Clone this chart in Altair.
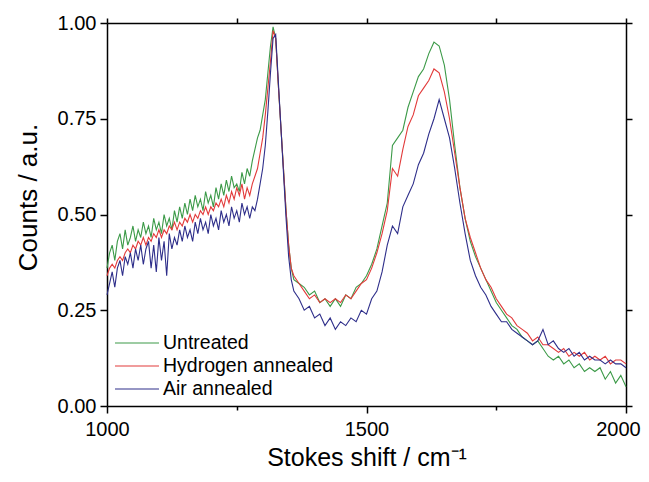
import altair as alt
import pandas as pd

shift = [1000, 1005, 1010, 1015, 1020, 1025, 1030, 1035, 1040, 1045,
         1050, 1055, 1060, 1065, 1070, 1075, 1080, 1085, 1090, 1095,
         1100, 1105, 1110, 1115, 1120, 1125, 1130, 1135, 1140, 1145,
         1150, 1155, 1160, 1165, 1170, 1175, 1180, 1185, 1190, 1195,
         1200, 1205, 1210, 1215, 1220, 1225, 1230, 1235, 1240, 1245,
         1250, 1255, 1260, 1265, 1270, 1275, 1280, 1285, 1290, 1295,
         1300, 1305, 1310, 1315, 1320, 1325, 1330, 1335, 1340, 1345,
         1350, 1355, 1360,
         1370, 1380, 1390, 1400, 1410, 1420, 1430, 1440,
         1450, 1460, 1470, 1480, 1490, 1500, 1510, 1520, 1530, 1540,
         1550, 1560, 1570, 1580, 1590, 1600, 1610, 1620, 1630, 1640,
         1650, 1660, 1670, 1680, 1690, 1700, 1710, 1720, 1730, 1740,
         1750, 1760, 1770, 1780, 1790, 1800, 1810, 1820, 1830, 1840,
         1850, 1860, 1870, 1880, 1890, 1900, 1910, 1920, 1930, 1940,
         1950, 1960, 1970, 1980, 1990, 2000]

untreated = [0.36, 0.40, 0.42, 0.38, 0.43, 0.45, 0.41, 0.46, 0.42, 0.44,
             0.47, 0.43, 0.46, 0.44, 0.48, 0.45, 0.47, 0.44, 0.49, 0.46,
             0.48, 0.45, 0.50, 0.47, 0.49, 0.46, 0.51, 0.48, 0.52, 0.49,
             0.53, 0.50, 0.54, 0.51, 0.55, 0.52, 0.54, 0.51, 0.56, 0.53,
             0.55, 0.52, 0.57, 0.54, 0.58, 0.55, 0.59, 0.56, 0.60, 0.57,
             0.58, 0.56, 0.61, 0.58, 0.62, 0.60, 0.64, 0.67, 0.70, 0.72,
             0.76, 0.80, 0.87, 0.94, 0.99, 0.96, 0.84, 0.73, 0.62, 0.51,
             0.42, 0.36, 0.33,
             0.32, 0.31, 0.29, 0.30, 0.27, 0.28, 0.26, 0.28,
             0.26, 0.29, 0.28, 0.31, 0.32, 0.34, 0.37, 0.41, 0.47, 0.53,
             0.68, 0.70, 0.72, 0.78, 0.82, 0.86, 0.88, 0.92, 0.95, 0.94,
             0.89, 0.80, 0.68, 0.57, 0.49, 0.43, 0.39, 0.36, 0.33, 0.30,
             0.27, 0.25, 0.23, 0.21, 0.20, 0.18, 0.17, 0.16, 0.17, 0.15,
             0.13, 0.12, 0.13, 0.11, 0.12, 0.10, 0.11, 0.09, 0.10, 0.09,
             0.10, 0.07, 0.09, 0.06, 0.08, 0.05]

hydrogen = [0.34, 0.36, 0.37, 0.36, 0.38, 0.39, 0.38, 0.40, 0.41, 0.40,
            0.42, 0.41, 0.43, 0.42, 0.44, 0.42, 0.44, 0.43, 0.45, 0.44,
            0.46, 0.44, 0.46, 0.45, 0.47, 0.46, 0.48, 0.46, 0.48, 0.47,
            0.49, 0.48, 0.50, 0.48, 0.50, 0.49, 0.51, 0.50, 0.52, 0.50,
            0.52, 0.51, 0.53, 0.52, 0.54, 0.52, 0.55, 0.53, 0.56, 0.54,
            0.57, 0.55, 0.58, 0.54, 0.57, 0.55, 0.58, 0.60, 0.62, 0.66,
            0.70, 0.76, 0.83, 0.90, 0.98, 0.96, 0.84, 0.73, 0.62, 0.51,
            0.42, 0.36, 0.34,
            0.32, 0.30, 0.28, 0.29, 0.27, 0.28, 0.27, 0.28,
            0.27, 0.29, 0.28, 0.30, 0.32, 0.33, 0.36, 0.40, 0.45, 0.51,
            0.62, 0.60, 0.67, 0.73, 0.76, 0.81, 0.83, 0.85, 0.88, 0.87,
            0.82, 0.75, 0.66, 0.57, 0.49, 0.44, 0.40, 0.36, 0.33, 0.31,
            0.28, 0.26, 0.24, 0.23, 0.21, 0.20, 0.19, 0.17, 0.18, 0.16,
            0.16, 0.15, 0.14, 0.15, 0.13, 0.14, 0.13, 0.14, 0.12, 0.13,
            0.12, 0.13, 0.11, 0.12, 0.12, 0.11]

air = [0.29, 0.32, 0.35, 0.31, 0.36, 0.38, 0.34, 0.39, 0.37, 0.40,
       0.36, 0.41, 0.38, 0.42, 0.37, 0.41, 0.43, 0.36, 0.42, 0.35,
       0.44, 0.38, 0.43, 0.34, 0.45, 0.41, 0.44, 0.42, 0.46, 0.43,
       0.47, 0.44, 0.46, 0.43, 0.48, 0.45, 0.49, 0.46, 0.48, 0.45,
       0.50, 0.47, 0.49, 0.46, 0.51, 0.48, 0.50, 0.47, 0.52, 0.49,
       0.51, 0.48, 0.53, 0.50, 0.52, 0.49, 0.52, 0.51, 0.54, 0.58,
       0.62, 0.68, 0.77, 0.87, 0.96, 0.97, 0.85, 0.73, 0.61, 0.49,
       0.39, 0.33, 0.30,
       0.28, 0.25, 0.26, 0.23, 0.24, 0.21, 0.23, 0.20,
       0.22, 0.21, 0.23, 0.22, 0.25, 0.24, 0.28, 0.30, 0.35, 0.42,
       0.47, 0.45, 0.52, 0.55, 0.58, 0.63, 0.66, 0.71, 0.75, 0.80,
       0.75, 0.70, 0.62, 0.53, 0.45, 0.38, 0.34, 0.31, 0.29, 0.26,
       0.24, 0.22, 0.22, 0.20, 0.19, 0.18, 0.17, 0.16, 0.17, 0.20,
       0.16, 0.17, 0.15, 0.14, 0.15, 0.13, 0.14, 0.12, 0.13, 0.12,
       0.12, 0.11, 0.12, 0.11, 0.11, 0.10]

series_names = ["Untreated", "Hydrogen annealed", "Air annealed"]
series_colors = ["#3c9a48", "#e23a3a", "#2e2e8a"]
x_all = [1000, 1250, 1500, 1750, 2000]
y_ticks = [0.0, 0.25, 0.5, 0.75, 1.0]

rows = []
for name, vals in zip(series_names, [untreated, hydrogen, air]):
    for xv, yv in zip(shift, vals):
        rows.append({"shift": xv, "counts": yv, "series": name})
df = pd.DataFrame(rows)

FONT = "Liberation Sans"
xscale = alt.Scale(domain=[1000, 2000], nice=False)
yscale = alt.Scale(domain=[0, 1], nice=False)

base = alt.Chart(df)

lines = base.mark_line(strokeWidth=1.1).encode(
    x=alt.X("shift:Q", scale=xscale,
            axis=alt.Axis(orient="bottom", values=x_all, title="Stokes shift / cm\u207b\u00b9",
                          labelExpr="datum.value % 500 === 0 ? datum.label : ''",
                          tickSize={"condition": {"test": "datum.value % 500 === 0", "value": 7}, "value": 4},
                          labelOffset={"condition": {"test": "datum.value === 2000", "value": -8}, "value": 0},
                          labelFontSize=20, titleFontSize=25, labelPadding=6,
                          labelFlush=False, titlePadding=6, format="d", grid=False)),
    y=alt.Y("counts:Q", scale=yscale,
            axis=alt.Axis(orient="left", values=y_ticks, title="Counts / a.u.", format=".2f",
                          labelFontSize=20, titleFontSize=26, tickSize=7, labelPadding=4,
                          labelFlush=False, titlePadding=16, titleY=174, grid=False)),
    color=alt.Color("series:N", sort=series_names,
                    scale=alt.Scale(domain=series_names, range=series_colors),
                    legend=alt.Legend(orient="none", legendX=18, legendY=308, title=None,
                                      symbolType="M-2,0H2", symbolSize=484,
                                      symbolStrokeWidth=1.2, symbolFillColor="transparent",
                                      labelFontSize=19.5, labelLimit=400,
                                      labelOffset=14, rowPadding=1,
                                      labelFont=FONT)),
    detail="series:N",
)

frame = base.mark_line(opacity=0).encode(
    x=alt.X("shift:Q", scale=xscale,
            axis=alt.Axis(orient="top", values=x_all, labels=False, title=None,
                          tickSize=5, grid=False)),
    y=alt.Y("counts:Q", scale=yscale,
            axis=alt.Axis(orient="right", values=y_ticks, labels=False, title=None,
                          tickSize=6, grid=False)),
    detail="series:N",
)

chart = alt.layer(lines, frame).resolve_axis(x="independent", y="independent").properties(
    width=519, height=383,
    autosize=alt.AutoSizeParams(type="none"),
    padding={"left": 99, "top": 15, "right": 15, "bottom": 68},
).configure_axis(
    domainColor="black", domainWidth=1.5, tickColor="black", tickWidth=1.5,
    labelColor="black", titleColor="black", labelFont=FONT, titleFont=FONT,
    titleFontWeight="normal",
).configure_legend(labelColor="black").configure_view(stroke=None)

chart.save("out.html", embed_options={"renderer": "svg", "actions": False})
